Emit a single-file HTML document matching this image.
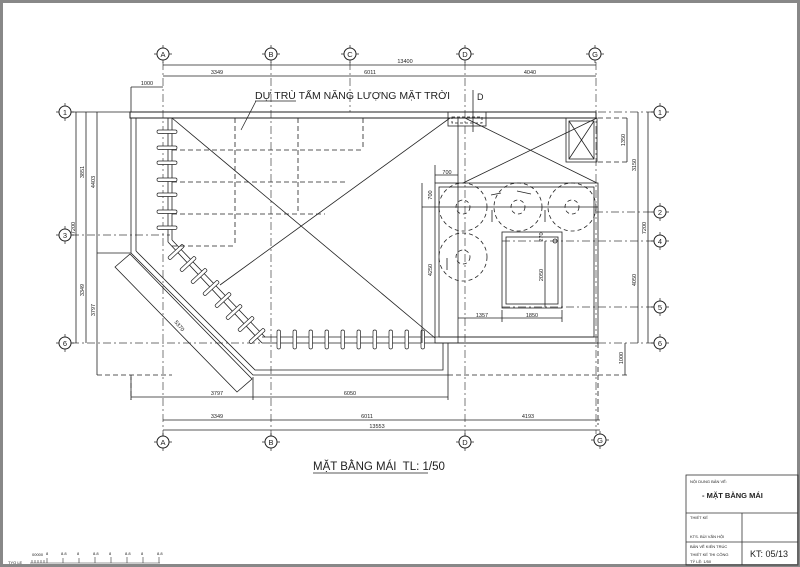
<!DOCTYPE html>
<html><head><meta charset="utf-8"><style>
html,body{margin:0;padding:0;background:#fff}
svg{display:block}
text{font-family:"Liberation Sans","DejaVu Sans",sans-serif;fill:#222}
</style></head><body>
<svg width="800" height="567" viewBox="0 0 800 567" xmlns="http://www.w3.org/2000/svg">
<rect x="0" y="0" width="800" height="567" fill="#fff"/>
<rect x="1.5" y="1.5" width="797" height="564" fill="none" stroke="#888" stroke-width="3"/>
<g stroke="#222" stroke-width="0.8" fill="none">
<g stroke-dasharray="8,3,2,3" stroke="#444" stroke-width="0.7">
<line x1="163" y1="62" x2="163" y2="436"/>
<line x1="271" y1="62" x2="271" y2="436"/>
<line x1="350" y1="62" x2="350" y2="112"/>
<line x1="465" y1="62" x2="465" y2="436"/>
<line x1="596" y1="62" x2="596" y2="434"/>
<line x1="71" y1="235" x2="170" y2="235"/>
<line x1="71" y1="343" x2="262" y2="343"/>
<line x1="595" y1="212" x2="654" y2="212"/>
<line x1="502" y1="241" x2="654" y2="241"/>
<line x1="502" y1="307" x2="654" y2="307"/>
<line x1="598" y1="343" x2="654" y2="343"/>
<line x1="598" y1="112" x2="654" y2="112"/>
</g>
<g stroke-width="1" fill="#fff">
<circle cx="163" cy="54" r="6"/><circle cx="271" cy="54" r="6"/><circle cx="350" cy="54" r="6"/><circle cx="465" cy="54" r="6"/><circle cx="595" cy="54" r="6"/>
<circle cx="163" cy="442" r="6"/><circle cx="271" cy="442" r="6"/><circle cx="465" cy="442" r="6"/><circle cx="600" cy="440" r="6"/>
<circle cx="65" cy="112" r="6"/><circle cx="65" cy="235" r="6"/><circle cx="65" cy="343" r="6"/>
<circle cx="660" cy="112" r="6"/><circle cx="660" cy="212" r="6"/><circle cx="660" cy="241" r="6"/><circle cx="660" cy="307" r="6"/><circle cx="660" cy="343" r="6"/>
</g>
<g stroke-width="0.7">
<path d="M154 54h3M169 54h3M163 45v3M163 60v3M262 54h3M277 54h3M271 45v3M271 60v3M341 54h3M356 54h3M350 45v3M350 60v3M456 54h3M471 54h3M465 45v3M465 60v3M586 54h3M601 54h3M595 45v3M595 60v3"/>
<path d="M154 442h3M169 442h3M163 433v3M163 448v3M262 442h3M277 442h3M271 433v3M271 448v3M456 442h3M471 442h3M465 433v3M465 448v3M591 440h3M606 440h3M600 431v3M600 446v3"/>
<path d="M56 112h3M71 112h3M65 103v3M65 118v3M56 235h3M71 235h3M65 226v3M65 241v3M56 343h3M71 343h3M65 334v3M65 349v3"/>
<path d="M651 112h3M666 112h3M660 103v3M660 118v3M651 212h3M666 212h3M660 203v3M660 218v3M651 241h3M666 241h3M660 232v3M660 247v3M651 307h3M666 307h3M660 298v3M660 313v3M651 343h3M666 343h3M660 334v3M660 349v3"/>
</g>
<line x1="163" y1="65" x2="596" y2="65"/>
<line x1="163" y1="76" x2="596" y2="76"/>
<line x1="131" y1="87" x2="163" y2="87"/><line x1="131" y1="87" x2="131" y2="112"/>
<line x1="131" y1="397" x2="448" y2="397"/><line x1="131" y1="377" x2="131" y2="400"/><line x1="253" y1="377" x2="253" y2="400"/><line x1="448" y1="375" x2="448" y2="400"/>
<line x1="163" y1="420" x2="600" y2="420"/><line x1="163" y1="430" x2="600" y2="430"/>
<line x1="76" y1="112" x2="76" y2="343"/><line x1="86" y1="112" x2="86" y2="343"/><line x1="97" y1="112" x2="97" y2="375"/>
<line x1="71" y1="112" x2="131" y2="112"/><line x1="97" y1="253" x2="131" y2="253"/>
<line x1="97" y1="375" x2="172" y2="375" stroke-dasharray="5,3"/>
<line x1="131" y1="375" x2="131" y2="400" stroke-dasharray="5,3"/>
<line x1="638" y1="112" x2="638" y2="343"/><line x1="648" y1="112" x2="648" y2="343"/>
<line x1="627" y1="118" x2="627" y2="162"/>
<line x1="598" y1="118" x2="630" y2="118" stroke-dasharray="5,3"/><line x1="598" y1="162" x2="630" y2="162" stroke-dasharray="5,3"/>
<line x1="545" y1="241" x2="545" y2="307"/>
<line x1="598" y1="375" x2="628" y2="375" stroke-dasharray="5,3"/><line x1="448" y1="375" x2="598" y2="375" stroke-dasharray="5,3"/>
<line x1="598" y1="343" x2="598" y2="425" stroke-dasharray="5,3"/>
<line x1="625" y1="343" x2="625" y2="375"/>
<rect x="130" y="112" width="466" height="6" stroke-width="1"/>
<line x1="131" y1="118" x2="131" y2="253"/><line x1="136" y1="118" x2="136" y2="251"/>
<polyline points="131,253 253,375 448,375 448,343"/>
<polyline points="136,251 255,370 443,370 443,343"/>
<polygon points="115,267 130,254 252,379 237,392"/>
<line x1="168" y1="118" x2="168" y2="242"/><line x1="172" y1="118" x2="172" y2="240"/>
<line x1="168" y1="242" x2="262" y2="343"/><line x1="172" y1="240" x2="265" y2="337"/>
<line x1="262" y1="337" x2="598" y2="337"/><line x1="262" y1="343" x2="598" y2="343"/>
<g fill="#fff" stroke-width="0.7">
<rect x="157" y="130" width="20" height="3.5" rx="1.7"/><rect x="157" y="146" width="20" height="3.5" rx="1.7"/><rect x="157" y="161" width="20" height="3.5" rx="1.7"/><rect x="157" y="178" width="20" height="3.5" rx="1.7"/><rect x="157" y="193" width="20" height="3.5" rx="1.7"/><rect x="157" y="210" width="20" height="3.5" rx="1.7"/><rect x="157" y="226" width="20" height="3.5" rx="1.7"/>
<g transform="translate(176,252) rotate(-43)"><rect x="-10" y="-1.7" width="20" height="3.5" rx="1.7"/></g>
<g transform="translate(188,264) rotate(-43)"><rect x="-10" y="-1.7" width="20" height="3.5" rx="1.7"/></g>
<g transform="translate(199,276) rotate(-43)"><rect x="-10" y="-1.7" width="20" height="3.5" rx="1.7"/></g>
<g transform="translate(211,288) rotate(-43)"><rect x="-10" y="-1.7" width="20" height="3.5" rx="1.7"/></g>
<g transform="translate(223,300) rotate(-43)"><rect x="-10" y="-1.7" width="20" height="3.5" rx="1.7"/></g>
<g transform="translate(234,312) rotate(-43)"><rect x="-10" y="-1.7" width="20" height="3.5" rx="1.7"/></g>
<g transform="translate(246,324) rotate(-43)"><rect x="-10" y="-1.7" width="20" height="3.5" rx="1.7"/></g>
<g transform="translate(257,336) rotate(-43)"><rect x="-10" y="-1.7" width="20" height="3.5" rx="1.7"/></g>
<rect x="277" y="330" width="3.5" height="19" rx="1.7"/><rect x="293" y="330" width="3.5" height="19" rx="1.7"/><rect x="309" y="330" width="3.5" height="19" rx="1.7"/><rect x="325" y="330" width="3.5" height="19" rx="1.7"/><rect x="341" y="330" width="3.5" height="19" rx="1.7"/><rect x="357" y="330" width="3.5" height="19" rx="1.7"/><rect x="373" y="330" width="3.5" height="19" rx="1.7"/><rect x="389" y="330" width="3.5" height="19" rx="1.7"/><rect x="405" y="330" width="3.5" height="19" rx="1.7"/><rect x="421" y="330" width="3.5" height="19" rx="1.7"/>
</g>
<line x1="172" y1="118" x2="435" y2="338"/>
<line x1="220" y1="285" x2="450" y2="118"/>
<line x1="465" y1="118" x2="597" y2="183"/>
<line x1="463" y1="183" x2="597" y2="118"/>
<g stroke-dasharray="5,3">
<path d="M172 150H363M172 182H345M172 214H325M172 246H235M235 118V246M298 118V214M363 118V150"/>
</g>
<rect x="448" y="112" width="38" height="14"/>
<rect x="452" y="117" width="30" height="6" stroke-dasharray="3,2"/>
<line x1="473" y1="90" x2="473" y2="132"/>
<line x1="458" y1="118" x2="458" y2="343"/>
<rect x="566" y="118" width="31" height="44"/><rect x="569" y="121" width="25" height="38"/>
<line x1="569" y1="121" x2="594" y2="159"/><line x1="594" y1="121" x2="569" y2="159"/>
<rect x="435" y="183" width="163" height="160"/>
<rect x="439" y="187" width="155" height="150"/>
<line x1="435" y1="165" x2="435" y2="183"/><line x1="435" y1="175" x2="458" y2="175"/>
<line x1="422" y1="207" x2="598" y2="207"/>
<line x1="422" y1="183" x2="422" y2="343"/>
<line x1="458" y1="318" x2="562" y2="318"/><line x1="502" y1="310" x2="502" y2="322"/><line x1="562" y1="310" x2="562" y2="322"/>
<g stroke-dasharray="4,3">
<circle cx="463" cy="207" r="24"/><circle cx="518" cy="207" r="24"/><circle cx="572" cy="207" r="24"/><circle cx="463" cy="257" r="24"/>
<circle cx="463" cy="207" r="7"/><circle cx="518" cy="207" r="7"/><circle cx="572" cy="207" r="7"/><circle cx="463" cy="257" r="7"/>
</g>
<rect x="502" y="232" width="60" height="76"/><rect x="506" y="237" width="52" height="67"/>
<circle cx="555" cy="241" r="2"/>
<path d="M491 195l10-2M517 191l14 3M492 222v-12M545 222v-12M447 270v-12"/>
</g>
<g font-size="5.5" text-anchor="middle">
<text x="405" y="63">13400</text>
<text x="217" y="74">3349</text><text x="370" y="74">6011</text><text x="530" y="74">4040</text>
<text x="147" y="85">1000</text>
<text x="217" y="395">3797</text><text x="350" y="395">6050</text>
<text x="217" y="418">3349</text><text x="367" y="418">6011</text><text x="528" y="418">4193</text>
<text x="377" y="428">13553</text>
<text x="447" y="174">700</text>
<text x="482" y="317">1357</text><text x="532" y="317">1850</text>
</g>
<g font-size="5.5" text-anchor="middle">
<text transform="translate(84,172) rotate(-90)">3851</text>
<text transform="translate(95,182) rotate(-90)">4403</text>
<text transform="translate(75,228) rotate(-90)">7200</text>
<text transform="translate(84,290) rotate(-90)">3349</text>
<text transform="translate(95,310) rotate(-90)">3797</text>
<text transform="translate(625,140) rotate(-90)">1350</text>
<text transform="translate(636,165) rotate(-90)">3150</text>
<text transform="translate(646,228) rotate(-90)">7200</text>
<text transform="translate(636,280) rotate(-90)">4050</text>
<text transform="translate(623,358) rotate(-90)">1000</text>
<text transform="translate(543,275) rotate(-90)">2050</text>
<text transform="translate(543,237) rotate(-90)">270</text>
<text transform="translate(432,270) rotate(-90)">4250</text>
<text transform="translate(432,195) rotate(-90)">700</text>
<text transform="translate(178,327) rotate(50)">5370</text>
</g>
<g font-size="7.5" text-anchor="middle">
<text x="163" y="57">A</text><text x="271" y="57">B</text><text x="350" y="57">C</text><text x="465" y="57">D</text><text x="595" y="57">G</text>
<text x="163" y="445">A</text><text x="271" y="445">B</text><text x="465" y="445">D</text><text x="600" y="443">G</text>
<text x="65" y="115">1</text><text x="65" y="238">3</text><text x="65" y="346">6</text>
<text x="660" y="115">1</text><text x="660" y="215">2</text><text x="660" y="244">4</text><text x="660" y="310">5</text><text x="660" y="346">6</text>
</g>
<text x="255" y="99" font-size="10.5">DỰ TRÙ TẤM NĂNG LƯỢNG MẶT TRỜI</text>
<line x1="255" y1="101" x2="296" y2="101" stroke="#222" stroke-width="0.7"/>
<line x1="256" y1="101" x2="241" y2="130" stroke="#222" stroke-width="0.7"/>
<text x="477" y="100" font-size="9">D</text>
<text x="313" y="470" font-size="11.5">MẶT BẰNG MÁI&#160; TL: 1/50</text>
<line x1="313" y1="473" x2="428" y2="473" stroke="#222" stroke-width="0.8"/>
<g stroke="#333" stroke-width="0.8" fill="none">
<rect x="686" y="475" width="112" height="90"/>
<line x1="686" y1="513" x2="798" y2="513"/><line x1="686" y1="542" x2="798" y2="542"/>
<line x1="742" y1="513" x2="742" y2="565"/>
</g>
<g font-size="4">
<text x="690" y="483">NỘI DUNG BẢN VẼ:</text>
<text x="690" y="519">THIẾT KẾ</text>
<text x="690" y="538">KTS. BÙI VĂN HỘI</text>
<text x="690" y="548">BẢN VẼ KIẾN TRÚC</text>
<text x="690" y="556">THIẾT KẾ THI CÔNG</text>
<text x="690" y="563">TỶ LỆ: 1/50</text>
</g>
<text x="702" y="498" font-size="7.5" font-weight="bold">- MẶT BẰNG MÁI</text>
<text x="750" y="557" font-size="9">KT: 05/13</text>
<g stroke="#333" stroke-width="0.6">
<line x1="30" y1="563" x2="160" y2="563"/>
<path d="M32 563v-3M35 563v-3M38 563v-3M41 563v-3M44 563v-3M47 563v-5M63 563v-5M79 563v-5M95 563v-6M111 563v-6M127 563v-6M143 563v-6M159 563v-6"/>
</g>
<g font-size="4">
<text x="8" y="564">TYO LE</text>
<text x="32" y="556">00000</text><text x="46" y="555">8</text><text x="61" y="555">8.8</text><text x="77" y="555">8</text><text x="93" y="555">8.8</text><text x="109" y="555">8</text><text x="125" y="555">8.8</text><text x="141" y="555">8</text><text x="157" y="555">8.8</text>
</g>
</svg>
</body></html>
